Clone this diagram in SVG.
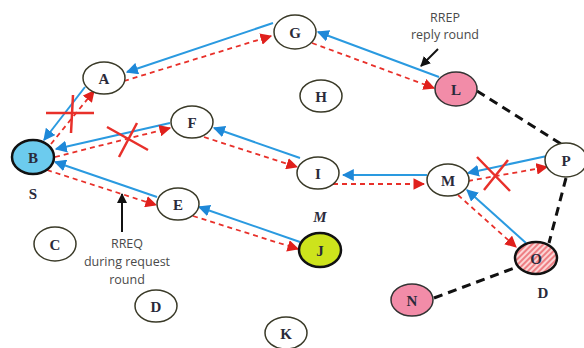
<svg xmlns="http://www.w3.org/2000/svg" width="584" height="348" viewBox="0 0 584 348">
  <style>
    .node ellipse { fill: #ffffff; stroke: #3a3a28; stroke-width: 1.5; }
    .node text { font-family: "Liberation Serif", "DejaVu Serif", serif; font-size: 15px; font-weight: bold; fill: #2a2a3a; text-anchor: middle; dominant-baseline: central; }
    .node.src ellipse { fill: #6ccbee; stroke: #111; stroke-width: 2.5; }
    .node.pink ellipse { fill: #f28ca8; stroke: #333; stroke-width: 1.5; }
    .node.mal ellipse { fill: #cde31c; stroke: #111; stroke-width: 2.5; }
    .node.dst ellipse { fill: url(#hatch); stroke: #111; stroke-width: 2.5; }
    .rep { stroke: #2a9ae0; stroke-width: 2; fill: none; marker-end: url(#blueHead); }
    .req { stroke: #e8302a; stroke-width: 1.8; stroke-dasharray: 5 4; fill: none; marker-end: url(#redHead); }
    .link { stroke: #111; stroke-width: 3; stroke-dasharray: 9 6; fill: none; }
    .cut { stroke: #e8302a; stroke-width: 2.5; fill: none; }
    .note { font-family: "Open Sans", "Liberation Sans", sans-serif; font-size: 12.5px; fill: #4a4a4a; text-anchor: middle; }
    .tag { font-family: "Liberation Serif", serif; font-size: 15px; font-weight: bold; fill: #2a2a3a; text-anchor: middle; }
    .pointer { stroke: #111; stroke-width: 2; fill: none; marker-end: url(#blackHead); }
  </style>
  <defs>
    <marker id="blueHead" viewBox="0 0 10 10" refX="9" refY="5" markerWidth="6" markerHeight="6" orient="auto" markerUnits="strokeWidth">
      <path d="M0,0 L10,5 L0,10 z" fill="#1e88d8"/>
    </marker>
    <marker id="redHead" viewBox="0 0 10 10" refX="9" refY="5" markerWidth="6.5" markerHeight="6.5" orient="auto" markerUnits="strokeWidth">
      <path d="M0,0 L10,5 L0,10 z" fill="#e0201c"/>
    </marker>
    <marker id="blackHead" viewBox="0 0 10 10" refX="9" refY="5" markerWidth="5" markerHeight="5" orient="auto" markerUnits="strokeWidth">
      <path d="M0,0 L10,5 L0,10 z" fill="#111"/>
    </marker>
    <pattern id="hatch" patternUnits="userSpaceOnUse" width="4" height="4" patternTransform="rotate(45)">
      <rect width="4" height="4" fill="#fbd6d6"/>
      <rect width="2" height="4" fill="#ee7f84"/>
    </pattern>
  </defs>

  <rect width="584" height="348" fill="#ffffff"/>

  <!-- connectors: blue = route reply, red dashed = route request, black dashed = other links -->
  <g id="connectors">
    <!-- G - A -->
    <line class="rep" x1="273" y1="23" x2="127" y2="72"/>
    <line class="req" x1="124" y1="81" x2="271" y2="36"/>
    <!-- L - G -->
    <line class="rep" x1="439" y1="77" x2="318" y2="32"/>
    <line class="req" x1="312" y1="43" x2="434" y2="88"/>
    <!-- A - B -->
    <line class="rep" x1="85" y1="87" x2="44" y2="140"/>
    <line class="req" x1="51" y1="144" x2="94" y2="91"/>
    <!-- F - B -->
    <line class="rep" x1="170" y1="123" x2="56" y2="149"/>
    <line class="req" x1="55" y1="157" x2="170" y2="128"/>
    <!-- I - F -->
    <line class="rep" x1="300" y1="158" x2="214" y2="128"/>
    <line class="req" x1="204" y1="137" x2="297" y2="167"/>
    <!-- M - I -->
    <line class="rep" x1="427" y1="175" x2="343" y2="175"/>
    <line class="req" x1="333" y1="184" x2="424" y2="184"/>
    <!-- P - M -->
    <line class="rep" x1="547" y1="156" x2="468" y2="173"/>
    <line class="req" x1="468" y1="181" x2="547" y2="167"/>
    <!-- O - M -->
    <line class="rep" x1="526" y1="243" x2="467" y2="190"/>
    <line class="req" x1="458" y1="195" x2="516" y2="247"/>
    <!-- E - B -->
    <line class="rep" x1="157" y1="197" x2="55" y2="162"/>
    <line class="req" x1="47" y1="170" x2="156" y2="205"/>
    <!-- J - E -->
    <line class="rep" x1="300" y1="242" x2="199" y2="207"/>
    <line class="req" x1="193" y1="216" x2="298" y2="249"/>
    <!-- plain links -->
    <line class="link" x1="477" y1="91" x2="561" y2="144"/>
    <line class="link" x1="566" y1="178" x2="549" y2="243"/>
    <line class="link" x1="434" y1="298" x2="517" y2="267"/>
    <!-- broken links -->
    <path class="cut" d="M46,113 L94,113 M73,95 L71,133"/>
    <path class="cut" d="M107,127 L148,150 M137,123 L119,157"/>
    <path class="cut" d="M477,157 L510,191 M508,160 L484,190"/>
  </g>

  <!-- nodes -->
  <g id="node-A" class="node"><ellipse cx="104" cy="78" rx="21" ry="16"/><text x="104" y="79">A</text></g>
  <g id="node-G" class="node"><ellipse cx="295" cy="32" rx="21" ry="17"/><text x="295" y="33">G</text></g>
  <g id="node-B" class="node src"><ellipse cx="33" cy="157" rx="21" ry="17"/><text x="33" y="158">B</text></g>
  <g id="node-F" class="node"><ellipse cx="192" cy="122" rx="21" ry="16"/><text x="192" y="123">F</text></g>
  <g id="node-H" class="node"><ellipse cx="321" cy="96" rx="21" ry="16"/><text x="321" y="97">H</text></g>
  <g id="node-L" class="node pink"><ellipse cx="456" cy="89" rx="21" ry="17"/><text x="456" y="90">L</text></g>
  <g id="node-P" class="node"><ellipse cx="566" cy="160" rx="21" ry="17"/><text x="566" y="161">P</text></g>
  <g id="node-I" class="node"><ellipse cx="318" cy="173" rx="21" ry="16"/><text x="318" y="174">I</text></g>
  <g id="node-M" class="node"><ellipse cx="448" cy="180" rx="21" ry="16"/><text x="448" y="181">M</text></g>
  <g id="node-E" class="node"><ellipse cx="178" cy="204" rx="21" ry="16"/><text x="178" y="205">E</text></g>
  <g id="node-J" class="node mal"><ellipse cx="320" cy="250" rx="21" ry="17"/><text x="320" y="251">J</text></g>
  <g id="node-O" class="node dst"><ellipse cx="536" cy="258" rx="21" ry="16"/><text x="536" y="259">O</text></g>
  <g id="node-N" class="node pink"><ellipse cx="412" cy="300" rx="21" ry="16"/><text x="412" y="301">N</text></g>
  <g id="node-C" class="node"><ellipse cx="55" cy="244" rx="21" ry="17"/><text x="55" y="245">C</text></g>
  <g id="node-D" class="node"><ellipse cx="156" cy="306" rx="21" ry="16"/><text x="156" y="307">D</text></g>
  <g id="node-K" class="node"><ellipse cx="286" cy="333" rx="21" ry="16"/><text x="286" y="334">K</text></g>

  <!-- role labels -->
  <text class="tag" x="33" y="199">S</text>
  <text class="tag" x="543" y="298">D</text>
  <text class="tag" x="320" y="222" style="font-style:italic">M</text>

  <!-- annotations -->
  <g id="note-rrep">
    <text class="note" x="445" y="22">RREP</text>
    <text class="note" x="445" y="39">reply round</text>
    <line class="pointer" x1="438" y1="49" x2="421" y2="66"/>
  </g>
  <g id="note-rreq">
    <text class="note" x="127" y="248">RREQ</text>
    <text class="note" x="127" y="266">during request</text>
    <text class="note" x="127" y="284">round</text>
    <line class="pointer" x1="122" y1="232" x2="122" y2="194"/>
  </g>
</svg>
